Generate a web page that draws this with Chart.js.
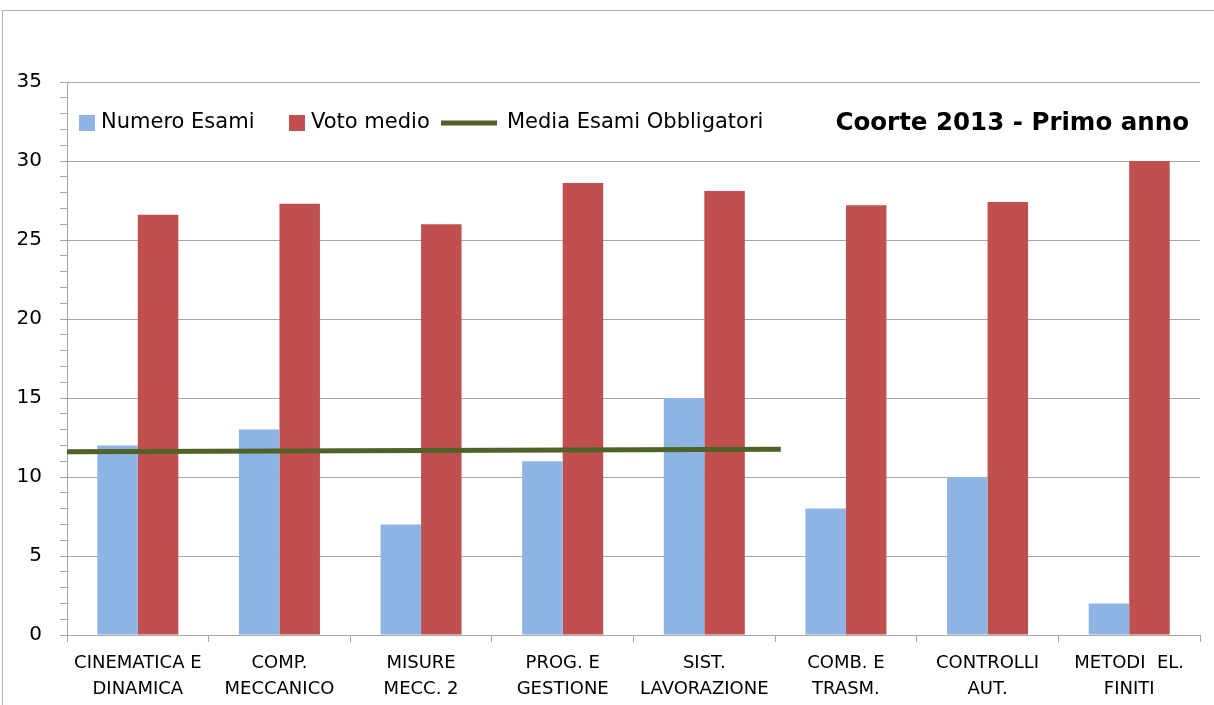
<!DOCTYPE html>
<html lang="it">
<head>
    <meta charset="UTF-8">
    <title>Coorte 2013 - Primo anno</title>
    <script src="https://cdn.jsdelivr.net/npm/chart.js@4.4.1/dist/chart.umd.min.js"></script>
    <style>
        html, body { margin: 0; padding: 0; background: #fff; }
        #wrap { position: relative; width: 1214px; height: 705px; }
    </style>
</head>
<body>
    <div id="wrap"><canvas id="chart" width="1214" height="705"></canvas></div>

    <script>
        // Data
        const categories = [
            ['CINEMATICA E', 'DINAMICA'],
            ['COMP.', 'MECCANICO'],
            ['MISURE', 'MECC. 2'],
            ['PROG. E', 'GESTIONE'],
            ['SIST.', 'LAVORAZIONE'],
            ['COMB. E', 'TRASM.'],
            ['CONTROLLI', 'AUT.'],
            ['METODI  EL.', 'FINITI']
        ];
        const numeroEsami = [12, 13, 7, 11, 15, 8, 10, 2];
        const votoMedio = [26.6, 27.3, 26.0, 28.6, 28.1, 27.2, 27.4, 30.0];
        // average line, x in category index units (-0.5 = left edge of the plot)
        const mediaX = [-0.5, 4.54];
        const mediaY = [11.6, 11.75];

        const FONT = '"DejaVu Sans", "Open Sans", sans-serif';
        const GRID = '#a6a6a6';

        // frame, legend and title drawn inside the plot
        const decorations = {
            id: 'decorations',
            beforeDraw(chart) {
                const ctx = chart.ctx;
                ctx.save();
                ctx.strokeStyle = '#b4b4b4';
                ctx.lineWidth = 1;
                ctx.strokeRect(2.5, 10.5, 1400, 900);
                ctx.restore();
            },
            afterDraw(chart) {
                const ctx = chart.ctx;
                const ds = chart.data.datasets;
                const y = 123;
                ctx.save();
                ctx.font = '21px ' + FONT;
                ctx.textBaseline = 'middle';
                // bar entries
                ctx.fillStyle = ds[0].backgroundColor;
                ctx.fillRect(79, y - 8, 16, 16);
                ctx.fillStyle = '#000';
                ctx.fillText(ds[0].label, 101, y);
                ctx.fillStyle = ds[1].backgroundColor;
                ctx.fillRect(289, y - 8, 16, 16);
                ctx.fillStyle = '#000';
                ctx.fillText(ds[1].label, 311, y);
                // line entry
                ctx.strokeStyle = ds[2].borderColor;
                ctx.lineWidth = 5;
                ctx.beginPath();
                ctx.moveTo(441, y);
                ctx.lineTo(497, y);
                ctx.stroke();
                ctx.fillText(ds[2].label, 507, y);
                // title
                ctx.font = 'bold 24.5px ' + FONT;
                ctx.textAlign = 'right';
                ctx.fillText('Coorte 2013 - Primo anno', 1189, y + 1);
                ctx.restore();
            }
        };

        const ctx = document.getElementById('chart').getContext('2d');
        new Chart(ctx, {
            type: 'bar',
            data: {
                labels: categories,
                datasets: [{
                    label: 'Numero Esami',
                    data: numeroEsami,
                    backgroundColor: '#8eb4e3',
                    categoryPercentage: 0.572,
                    barPercentage: 1,
                    order: 1
                }, {
                    label: 'Voto medio',
                    data: votoMedio,
                    backgroundColor: '#c0504d',
                    categoryPercentage: 0.572,
                    barPercentage: 1,
                    order: 1
                }, {
                    type: 'line',
                    label: 'Media Esami Obbligatori',
                    // already in internal format so fractional category positions are kept
                    parsing: false,
                    data: mediaX.map((x, i) => ({ x: x, y: mediaY[i] })),
                    borderColor: '#4f6228',
                    borderWidth: 5,
                    pointRadius: 0,
                    fill: false,
                    order: 0
                }]
            },
            options: {
                responsive: false,
                animation: false,
                layout: { padding: { left: 0, right: 14, top: 82, bottom: 0 } },
                plugins: {
                    legend: { display: false },
                    tooltip: { enabled: false }
                },
                scales: {
                    x: {
                        offset: true,
                        grid: {
                            offset: true,
                            drawOnChartArea: false,
                            tickLength: 7,
                            tickColor: GRID
                        },
                        border: { color: GRID },
                        ticks: {
                            color: '#000',
                            font: { family: FONT, size: 18, lineHeight: 1.45 },
                            padding: 8,
                            maxRotation: 0,
                            autoSkip: false
                        },
                        afterFit(s) { s.height = 70; }
                    },
                    y: {
                        min: 0,
                        max: 35,
                        ticks: {
                            stepSize: 1,
                            autoSkip: false,
                            color: '#000',
                            font: { family: FONT, size: 20 },
                            padding: 18,
                            callback: v => (v % 5 === 0 ? String(v) : '')
                        },
                        grid: {
                            color: c => (c.tick && c.tick.value % 5 === 0 ? GRID : 'rgba(0,0,0,0)'),
                            tickColor: GRID,
                            tickLength: 7
                        },
                        border: { color: GRID },
                        afterFit(s) { s.width = 67; }
                    }
                }
            },
            plugins: [decorations]
        });
    </script>
</body>
</html>
